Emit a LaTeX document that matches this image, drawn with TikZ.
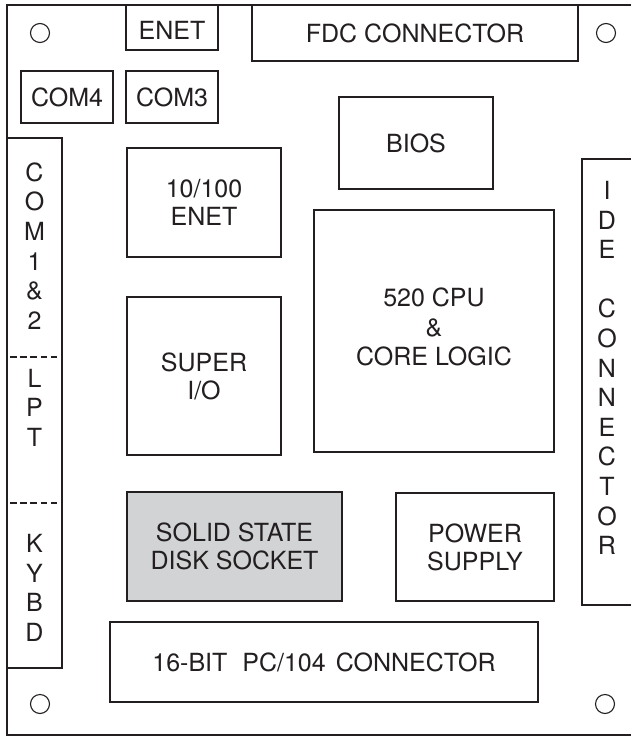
\documentclass[tikz,border=0pt]{standalone}
\usepackage{fontspec}
\setmainfont{TeX Gyre Heros}
\definecolor{ink}{HTML}{231F20}
\definecolor{ssdfill}{HTML}{D1D3D4}
\begin{document}
\begin{tikzpicture}[x=1pt,y=-1pt,
  box/.style={draw=ink, line width=2.4pt, inner sep=0pt, align=center, text=ink,
    font=\fontsize{25pt}{28pt}\selectfont},
  vtext/.style={inner sep=0pt, align=center, text=ink,
    font=\fontsize{25pt}{29.6pt}\selectfont},
  hole/.style={circle, draw=ink, line width=1.1pt, minimum size=19pt, inner sep=0pt},
  sep/.style={draw=ink, line width=2pt, dash pattern=on 6.5pt off 3.7pt},
  edge/.style={draw=ink, line width=2.4pt}]
\useasboundingbox (0,0) rectangle (631,736);
\fill[white] (0,0) rectangle (631,736);
% board outline (right side runs off the picture)
\path[edge] (631,5) -- (7,5) -- (7,735) -- (631,735);
% mounting holes
\node[hole] (h1) at (40,33) {};
\node[hole] (h2) at (606,33) {};
\node[hole] (h3) at (40,704) {};
\node[hole] (h4) at (605,704) {};
% top connectors
\node[box, minimum width=92pt, minimum height=45pt] (enet) at (172,27.5) {};
\node[vtext] (enettext) at (172,30) {ENET};
\node[box, minimum width=326pt, minimum height=56pt] (fdc) at (415,33) {FDC CONNECTOR};
\node[box, minimum width=92pt, minimum height=52pt] (com4) at (67,97) {COM4};
\node[box, minimum width=92pt, minimum height=52pt] (com3) at (172,97) {COM3};
% chips
\node[box, minimum width=154pt, minimum height=92pt] (bios) at (416,143) {BIOS};
\node[box, minimum width=154pt, minimum height=109pt] (enet100) at (204,202.5) {10/100\\ENET};
\node[box, minimum width=154pt, minimum height=158pt] (superio) at (204,376) {SUPER\\I/O};
\node[box, minimum width=240pt, minimum height=242pt] (cpu) at (434,331) {};
\node[vtext] (cputext) at (434,327) {520 CPU\\\&\\CORE LOGIC};
\node[box, fill=ssdfill, minimum width=215pt, minimum height=109pt] (ssd) at (234.5,546.5) {SOLID STATE\\DISK SOCKET};
\node[box, minimum width=158pt, minimum height=108pt] (ps) at (475,547) {POWER\\SUPPLY};
\node[box, minimum width=428pt, minimum height=80pt] (isa) at (324,662) {16-BIT\hspace{0.6em}PC/104\hspace{0.4em}CONNECTOR};
% left connector column
\node[box, minimum width=55pt, minimum height=530pt] (lcol) at (34.5,403) {};
\path[sep] (10,357) -- (60,357);
\path[sep] (10,503) -- (60,503);
\node[vtext] (com12) at (34.5,246) {C\\O\\M\\1\\\&\\2};
\node[vtext] (lpt) at (34.5,407.5) {L\\P\\T};
\node[vtext] (kybd) at (34.5,588) {K\\Y\\B\\D};
% IDE connector (runs off right edge)
\path[edge] (631,159) -- (582,159) -- (582,605) -- (631,605);
\node[vtext] (ide) at (607,368) {I\\D\\E\\[29.6pt]C\\O\\N\\N\\E\\C\\T\\O\\R};
\end{tikzpicture}
\end{document}
